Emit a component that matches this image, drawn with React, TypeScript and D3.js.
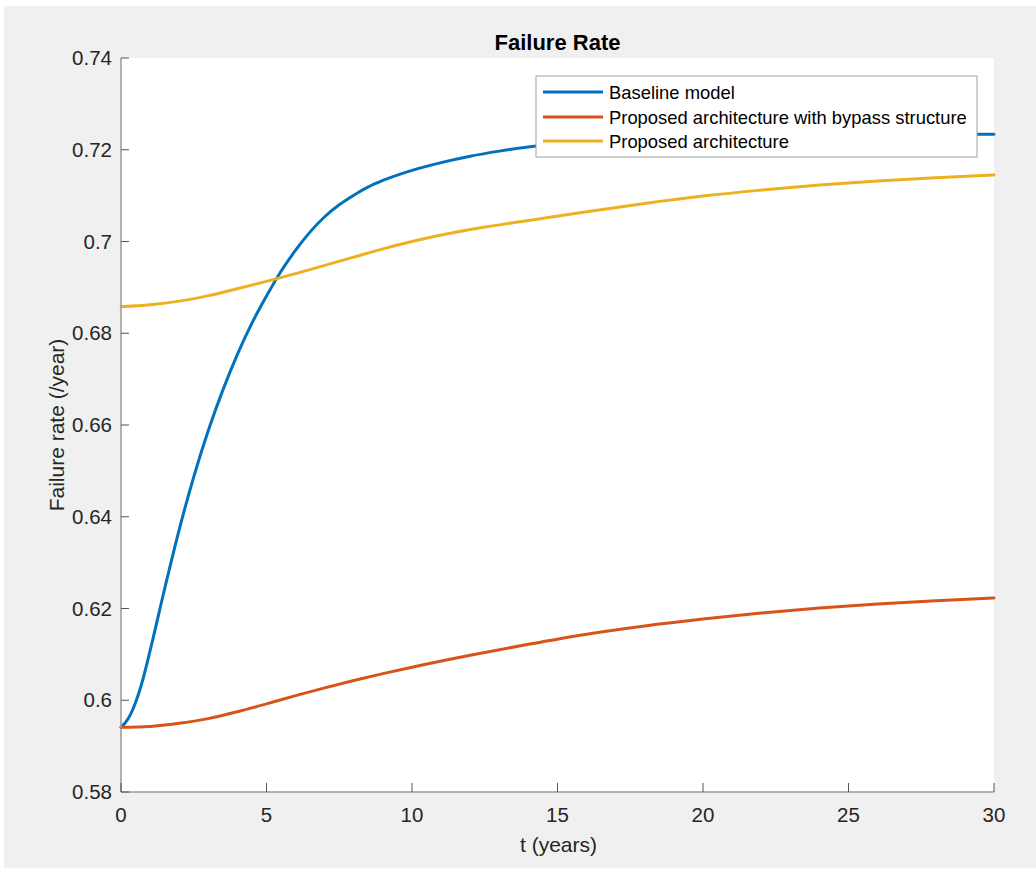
import React from "react";
import * as d3 from "d3";

// Time axis (years) and failure-rate series
const baselineT = [0, 0.25, 0.5, 0.75, 1.0, 1.5, 2.0, 2.5, 3.0, 3.5, 4.0, 4.5, 5.0, 5.5, 6.0, 6.5, 7.0, 7.5, 8.0, 8.5, 9, 10, 11, 12, 13, 14, 15, 16, 18, 20, 25, 30];
const baselineRate = [0.5941, 0.596, 0.5995, 0.6045, 0.6108, 0.6243, 0.6372, 0.6487, 0.6588, 0.6676, 0.6754, 0.6822, 0.6881, 0.6935, 0.6981, 0.7021, 0.7054, 0.708, 0.7101, 0.7119, 0.7133, 0.7155, 0.7172, 0.7186, 0.7197, 0.7206, 0.7213, 0.7219, 0.7226, 0.723, 0.7233, 0.7234];

const proposedT = [0, 1, 2, 3, 4, 5, 6, 7, 8, 9, 10, 12, 14, 16, 18, 20, 22, 24, 26, 28, 30];
const bypassRate = [0.5941, 0.5943, 0.595, 0.596, 0.5975, 0.5992, 0.601, 0.6027, 0.6043, 0.6058, 0.6072, 0.6098, 0.6122, 0.6144, 0.6162, 0.6177, 0.619, 0.6201, 0.621, 0.6217, 0.6223];
const proposedRate = [0.6858, 0.6862, 0.687, 0.6882, 0.6897, 0.6913, 0.693, 0.6948, 0.6966, 0.6984, 0.7, 0.7026, 0.7046, 0.7065, 0.7083, 0.7099, 0.7112, 0.7123, 0.7132, 0.7139, 0.7145];

const xTicks = [0, 5, 10, 15, 20, 25, 30];
const yTicks = [0.58, 0.6, 0.62, 0.64, 0.66, 0.68, 0.7, 0.72, 0.74];

const seriesNames = ["Baseline model", "Proposed architecture with bypass structure", "Proposed architecture"];
const seriesColors = ["#0072BD", "#D95319", "#EDB120"];

const W = 1036;
const H = 874;
const plot = { left: 121, right: 994, top: 58, bottom: 792 };
const FONT = "'Liberation Sans', Arial, Helvetica, sans-serif";
const TEXT = "#262626";

export default function App() {
  const x = d3.scaleLinear().domain([0, 30]).range([plot.left, plot.right]);
  const y = d3.scaleLinear().domain([0.58, 0.74]).range([plot.bottom, plot.top]);

  const line = d3
    .line<[number, number]>()
    .x((d) => x(d[0]))
    .y((d) => y(d[1]))
    .curve(d3.curveMonotoneX);

  const series: [number, number][][] = [
    baselineT.map((t, i) => [t, baselineRate[i]]),
    proposedT.map((t, i) => [t, bypassRate[i]]),
    proposedT.map((t, i) => [t, proposedRate[i]]),
  ];

  const legend = { x: 536, y: 76, w: 441, h: 81 };
  const rowY = [92, 117, 141];

  return (
    <svg
      width={W}
      height={H}
      style={{ position: "absolute", left: 0, top: 0, display: "block", background: "#ffffff" }}
      fontFamily={FONT}
    >
      <rect x={4} y={6} width={W - 4} height={H - 12} fill="#f0f0f0" />
      <rect
        x={plot.left}
        y={plot.top}
        width={plot.right - plot.left}
        height={plot.bottom - plot.top}
        fill="#ffffff"
      />

      {/* curves */}
      <g fill="none" strokeWidth={3} strokeLinejoin="round" strokeLinecap="round">
        {series.map((s, i) => (
          <path key={i} d={line(s) || ""} stroke={seriesColors[i]} />
        ))}
      </g>

      {/* axes */}
      <line x1={plot.left} x2={plot.right} y1={plot.bottom} y2={plot.bottom} stroke="#9a9a9a" strokeWidth={1.5} />
      <line x1={plot.left} x2={plot.left} y1={plot.top} y2={plot.bottom} stroke="#9a9a9a" strokeWidth={1.5} />

      {xTicks.map((t) => (
        <g key={"x" + t}>
          <line x1={x(t)} x2={x(t)} y1={plot.bottom} y2={plot.bottom - 9} stroke="#555" strokeWidth={1} />
          <text x={x(t)} y={822} textAnchor="middle" fontSize={20.5} fill={TEXT}>
            {t}
          </text>
        </g>
      ))}
      {yTicks.map((v) => (
        <g key={"y" + v}>
          <line x1={plot.left} x2={plot.left + 8} y1={y(v)} y2={y(v)} stroke="#555" strokeWidth={1} />
          <text x={112} y={y(v) + 7} textAnchor="end" fontSize={20.5} fill={TEXT}>
            {d3.format("")(+v.toFixed(2))}
          </text>
        </g>
      ))}

      {/* titles */}
      <text x={(plot.left + plot.right) / 2} y={50} textAnchor="middle" fontSize={22} fontWeight="bold" fill="#000">
        Failure Rate
      </text>
      <text x={(plot.left + plot.right) / 2 + 1} y={852} textAnchor="middle" fontSize={21} fill={TEXT}>
        t (years)
      </text>
      <text
        transform={`translate(64, ${(plot.top + plot.bottom) / 2}) rotate(-90)`}
        textAnchor="middle"
        fontSize={21}
        fill={TEXT}
      >
        Failure rate (/year)
      </text>

      {/* legend */}
      <rect x={legend.x} y={legend.y} width={legend.w} height={legend.h} fill="#ffffff" stroke="#a0a0a0" strokeWidth={1} />
      {seriesNames.map((name, i) => (
        <g key={name}>
          <line x1={543} x2={603} y1={rowY[i]} y2={rowY[i]} stroke={seriesColors[i]} strokeWidth={3} />
          <text x={609} y={rowY[i] + 6.5} fontSize={18.4} fill="#000">
            {name}
          </text>
        </g>
      ))}
    </svg>
  );
}
